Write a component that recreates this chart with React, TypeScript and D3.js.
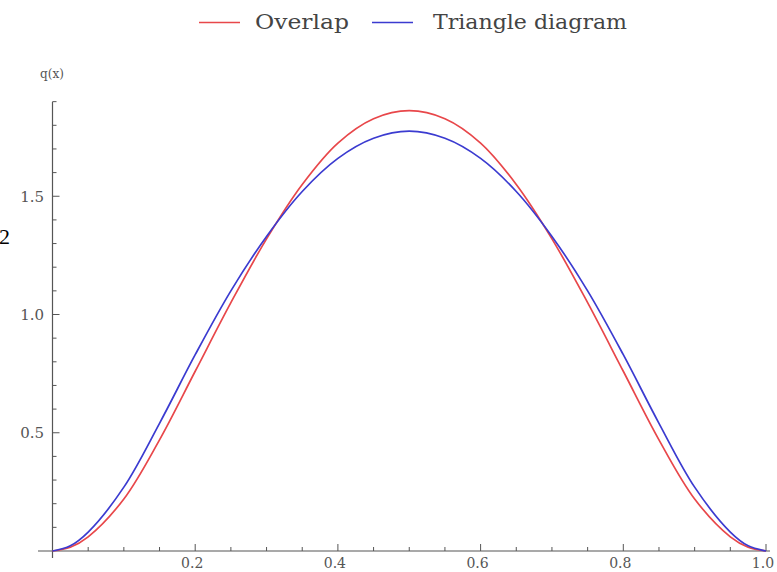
import React from "react";
import * as d3 from "d3";

const xValues = [0, 0.025, 0.05, 0.1, 0.15, 0.2, 0.25, 0.3, 0.35, 0.4, 0.45, 0.5, 0.55, 0.6, 0.65, 0.7, 0.75, 0.8, 0.85, 0.9, 0.95, 0.975, 1];
const overlapValues = [0, 0.016, 0.06, 0.22, 0.47, 0.76, 1.05, 1.32, 1.55, 1.725, 1.828, 1.862, 1.828, 1.725, 1.55, 1.32, 1.05, 0.76, 0.47, 0.22, 0.06, 0.016, 0];
const triangleValues = [0, 0.022, 0.08, 0.27, 0.54, 0.83, 1.1, 1.33, 1.52, 1.66, 1.745, 1.775, 1.745, 1.66, 1.52, 1.33, 1.1, 0.83, 0.54, 0.27, 0.08, 0.022, 0];

const seriesNames = ["Overlap", "Triangle diagram"];
const seriesColors = ["#e8474a", "#3b3bd0"];

const xMajorTicks = [0.2, 0.4, 0.6, 0.8, 1.0];
const xTickLabels = ["0.2", "0.4", "0.6", "0.8", "1.0"];
const yMajorTicks = [0.5, 1.0, 1.5];
const yTickLabels = ["0.5", "1.0", "1.5"];

export default function App() {
  const W = 777;
  const H = 572;
  const x = d3.scaleLinear().domain([0, 1]).range([52.5, 766]);
  const y = d3.scaleLinear().domain([0, 1.9]).range([551, 551 - 1.9 * 236.5]);

  const line = d3
    .line<number>()
    .x((_, i) => x(xValues[i]))
    .y((d) => y(d))
    .curve(d3.curveCatmullRom.alpha(0.5));

  const xMinor = d3.range(1, 21).map((i) => i * 0.05).filter((v) => Math.abs(v * 5 - Math.round(v * 5)) > 1e-6);
  const yMinor = d3.range(1, 20).map((i) => i * 0.1).filter((v) => Math.abs(v * 2 - Math.round(v * 2)) > 1e-6);

  const axisColor = "#555";
  const labelFont = "'DejaVu Serif', serif";

  return (
    <svg
      width={W}
      height={H}
      style={{ position: "absolute", left: 0, top: 0, background: "#fff" }}
    >
      {/* stray glyph at left edge */}
      <text x={-1} y={244} fontFamily="'Liberation Serif', serif" fontSize={22} fill="#000">2</text>

      {/* legend */}
      <g fontFamily={labelFont} fontSize={20} fill="#444">
        <line x1={199} x2={240} y1={22.5} y2={22.5} stroke={seriesColors[0]} strokeWidth={1.3} />
        <text x={255} y={29} textLength={94} lengthAdjust="spacingAndGlyphs">{seriesNames[0]}</text>
        <line x1={372} x2={413} y1={22.5} y2={22.5} stroke={seriesColors[1]} strokeWidth={1.3} />
        <text x={433} y={29} textLength={194} lengthAdjust="spacingAndGlyphs">{seriesNames[1]}</text>
      </g>

      {/* y axis label */}
      <text x={52} y={78} textAnchor="middle" fontFamily={labelFont} fontSize={12} fill="#555">q(x)</text>

      {/* axes */}
      <line x1={38} x2={770} y1={y(0)} y2={y(0)} stroke={axisColor} strokeWidth={1.2} />
      <line x1={x(0)} x2={x(0)} y1={558} y2={y(1.9)} stroke={axisColor} strokeWidth={1.2} />

      {/* x ticks */}
      {xMajorTicks.map((v, i) => (
        <g key={"xm" + i}>
          <line x1={x(v)} x2={x(v)} y1={y(0)} y2={y(0) - 7} stroke={axisColor} strokeWidth={1} />
          <text x={x(v) - 3} y={568} textAnchor="middle" fontFamily={labelFont} fontSize={14} fill="#555">{xTickLabels[i]}</text>
        </g>
      ))}
      {xMinor.map((v, i) => (
        <line key={"xn" + i} x1={x(v)} x2={x(v)} y1={y(0)} y2={y(0) - 4} stroke={axisColor} strokeWidth={1} />
      ))}

      {/* y ticks */}
      {yMajorTicks.map((v, i) => (
        <g key={"ym" + i}>
          <line x1={x(0)} x2={x(0) + 7} y1={y(v)} y2={y(v)} stroke={axisColor} strokeWidth={1} />
          <text x={44} y={y(v)} dy="0.35em" textAnchor="end" fontFamily={labelFont} fontSize={15} fill="#555">{yTickLabels[i]}</text>
        </g>
      ))}
      {yMinor.map((v, i) => (
        <line key={"yn" + i} x1={x(0)} x2={x(0) + 4} y1={y(v)} y2={y(v)} stroke={axisColor} strokeWidth={1} />
      ))}

      {/* curves */}
      <path d={line(overlapValues) || ""} fill="none" stroke={seriesColors[0]} strokeWidth={1.7} />
      <path d={line(triangleValues) || ""} fill="none" stroke={seriesColors[1]} strokeWidth={1.7} />
    </svg>
  );
}
